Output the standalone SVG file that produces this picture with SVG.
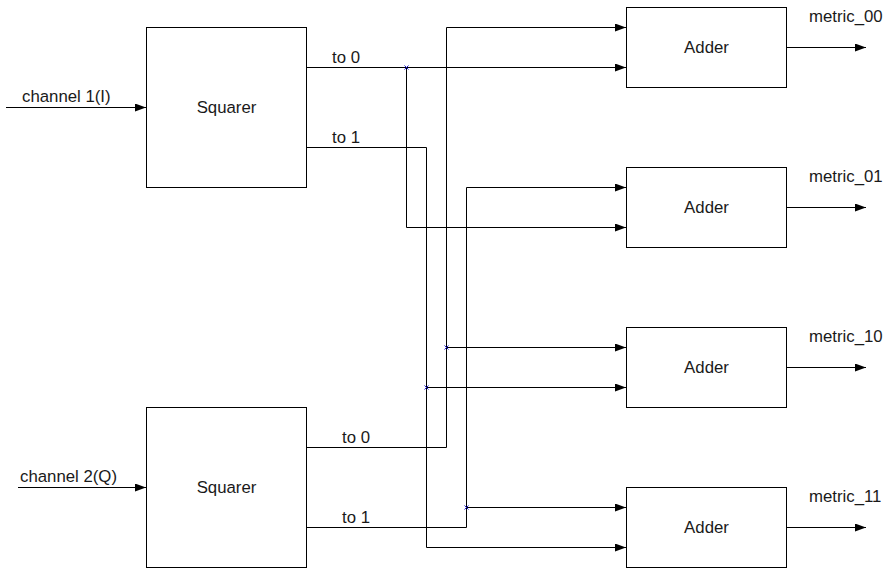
<svg xmlns="http://www.w3.org/2000/svg" width="892" height="577" viewBox="0 0 892 577">
<style>
.box{fill:#fff;stroke:#000;stroke-width:1}
.wa{fill:none;stroke:#000;stroke-width:1;marker-end:url(#ah)}
.t{font-family:"Liberation Sans",Arial,sans-serif;font-size:16.8px;fill:#1a1a1a}
.c{text-anchor:middle}
.j{stroke:#1a1acc;stroke-width:1}
</style>
<defs>
<marker id="ah" markerWidth="12" markerHeight="8" refX="11" refY="4" orient="auto" markerUnits="userSpaceOnUse">
<path d="M0,0 L11,4 L0,8 Z" fill="#000"/>
</marker>
</defs>
<rect width="892" height="577" fill="#fff"/>
<g id="sq1"><rect class="box" x="146.5" y="27.5" width="160" height="160"/><text class="t c" x="226.5" y="113">Squarer</text></g>
<g id="sq2"><rect class="box" x="146.5" y="407.5" width="160" height="160"/><text class="t c" x="226.5" y="493">Squarer</text></g>
<g id="ad00"><rect class="box" x="626.5" y="7.5" width="160" height="80"/><text class="t c" x="706.5" y="52.5">Adder</text></g>
<g id="ad01"><rect class="box" x="626.5" y="167.5" width="160" height="80"/><text class="t c" x="706.5" y="212.5">Adder</text></g>
<g id="ad10"><rect class="box" x="626.5" y="327.5" width="160" height="80"/><text class="t c" x="706.5" y="372.5">Adder</text></g>
<g id="ad11"><rect class="box" x="626.5" y="487.5" width="160" height="80"/><text class="t c" x="706.5" y="532.5">Adder</text></g>
<g id="connectors">
<path class="wa" d="M6,107.5 H146"/>
<path class="wa" d="M18,487.5 H146"/>
<path class="wa" d="M306,67.5 H626"/>
<path class="wa" d="M406.5,67.5 V227.5 H626"/>
<path class="wa" d="M306,147.5 H426.5 V547.5 H626"/>
<path class="wa" d="M426.5,387.5 H626"/>
<path class="wa" d="M306,447.5 H446.5 V27.5 H626"/>
<path class="wa" d="M446.5,347.5 H626"/>
<path class="wa" d="M306,527.5 H466.5 V187.5 H626"/>
<path class="wa" d="M466.5,507.5 H626"/>
<path class="wa" d="M786,47.5 H866"/>
<path class="wa" d="M786,207.5 H866"/>
<path class="wa" d="M786,367.5 H866"/>
<path class="wa" d="M786,527.5 H866"/>
<g class="j">
<path d="M404.5,65.5 l4,4 M408.5,65.5 l-4,4"/>
<path d="M424.5,385.5 l4,4 M428.5,385.5 l-4,4"/>
<path d="M444.5,345.5 l4,4 M448.5,345.5 l-4,4"/>
<path d="M464.5,505.5 l4,4 M468.5,505.5 l-4,4"/>
</g>
</g>
<g id="labels">
<text class="t" x="22" y="102">channel 1(I)</text>
<text class="t" x="20" y="482">channel 2(Q)</text>
<text class="t" x="332" y="63">to 0</text>
<text class="t" x="332" y="143">to 1</text>
<text class="t" x="342" y="443">to 0</text>
<text class="t" x="342" y="523">to 1</text>
<text class="t" x="809" y="22">metric_00</text>
<text class="t" x="809" y="182">metric_01</text>
<text class="t" x="809" y="342">metric_10</text>
<text class="t" x="809" y="502">metric_11</text>
</g>
</svg>
